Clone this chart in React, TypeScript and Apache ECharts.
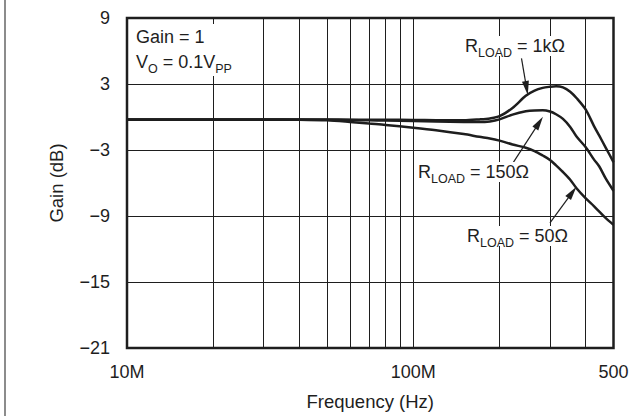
import React, { useEffect, useRef } from 'react';
import * as echarts from 'echarts';

const FONT = '"Liberation Sans", Arial, Helvetica, sans-serif';
const INK = '#1e1e1e';

// Frequency points in MHz
const FREQ_MHZ = [10, 20, 30, 40, 50, 60, 70, 80, 100, 120, 150, 170, 185, 200, 222, 247, 265, 283, 300, 315, 333, 353, 372, 400, 427, 446, 470, 500];
// Gain (dB) per load
const GAIN_1K = [-0.22, -0.22, -0.22, -0.22, -0.23, -0.24, -0.25, -0.25, -0.27, -0.29, -0.3, -0.22, -0.13, 0.07, 0.82, 1.93, 2.4, 2.65, 2.75, 2.8, 2.7, 2.3, 1.7, 0.67, -0.8, -1.7, -2.8, -4.1];
const GAIN_150 = [-0.25, -0.25, -0.25, -0.25, -0.26, -0.28, -0.3, -0.32, -0.36, -0.4, -0.45, -0.46, -0.4, -0.22, 0.22, 0.52, 0.6, 0.61, 0.5, 0.25, -0.17, -0.9, -1.8, -2.75, -3.85, -4.5, -5.6, -6.7];
const GAIN_50 = [-0.22, -0.22, -0.22, -0.24, -0.3, -0.45, -0.6, -0.72, -0.97, -1.2, -1.55, -1.8, -1.95, -2.15, -2.5, -2.8, -3.1, -3.5, -3.9, -4.4, -5.0, -5.7, -6.5, -7.4, -8.1, -8.6, -9.2, -9.8];

const MINOR_GRID_MHZ = [20, 30, 40, 50, 60, 70, 80, 90, 200, 300, 400];
const X_TICK_LABELS: Record<number, string> = { 10: '10M', 100: '100M', 500: '500' };
const Y_MIN = -21;
const Y_MAX = 9;
const Y_STEP = 6;

// Annotation arrows: [tail MHz, tail dB, head MHz, head dB]
const ARROWS = [
  [238.6, 5.33, 248.6, 2.63],
  [220, -4.4, 275, -0.51],
  [300, -9.62, 359, -6.85],
];

const FS = 18;
const mainStyle = { fontSize: FS, fontFamily: FONT, fill: INK, lineHeight: 20, verticalAlign: 'middle' };
const subStyle = { fontSize: 12.5, fontFamily: FONT, fill: INK, lineHeight: 12, padding: [13, 0, 0, 0], verticalAlign: 'middle' };

function label(x: number, y: number, text: string, bg = true) {
  return {
    type: 'text',
    x,
    y,
    z: 100,
    style: {
      text,
      rich: { m: mainStyle, s: subStyle },
      fill: INK,
      font: `${FS}px ${FONT}`,
      align: 'left',
      textAlign: 'left',
      verticalAlign: 'middle',
      textVerticalAlign: 'middle',
      backgroundColor: bg ? '#fff' : undefined,
      padding: bg ? [0, 2, 0, 2] : 0,
    },
  };
}

export default function App() {
  const ref = useRef<HTMLDivElement>(null);
  useEffect(() => {
    if (!ref.current) return;
    const chart = echarts.init(ref.current, undefined, { renderer: 'svg' });
    const toData = (g: number[]) => FREQ_MHZ.map((f, i) => [f * 1e6, g[i]]);
    const lineSeries = (name: string, g: number[]) => ({
      name,
      type: 'line',
      data: toData(g),
      showSymbol: false,
      symbol: 'none',
      smooth: 0.3,
      silent: true,
      lineStyle: { color: INK, width: 2.5 },
      itemStyle: { color: INK },
      emphasis: { disabled: true },
      z: 3,
    });
    const s1k: any = lineSeries('1k', GAIN_1K);
    s1k.markLine = {
      silent: true,
      symbol: ['none', 'none'],
      label: { show: false },
      lineStyle: { color: INK, width: 1, type: 'solid' },
      emphasis: { disabled: true },
      data: MINOR_GRID_MHZ.map((m) => ({ xAxis: m * 1e6 })),
      z: 1,
    };
    const s150: any = lineSeries('150', GAIN_150);
    s150.markLine = {
      silent: true,
      symbol: ['none', 'triangle'],
      symbolSize: 14,
      label: { show: false },
      lineStyle: { color: INK, width: 1.2, type: 'solid' },
      emphasis: { disabled: true },
      data: ARROWS.map((a) => [
        { coord: [a[0] * 1e6, a[1]], symbol: 'none' },
        { coord: [a[2] * 1e6, a[3]], symbol: 'triangle', symbolSize: [7, 14] },
      ]),
    };
    const s50: any = lineSeries('50', GAIN_50);

    chart.setOption({
      animation: false,
      textStyle: { fontFamily: FONT },
      grid: {
        left: 127,
        right: 18.5,
        top: 18,
        bottom: 67.5,
        show: true,
        borderColor: INK,
        borderWidth: 2.5,
        backgroundColor: 'transparent',
        z: 4,
      },
      xAxis: {
        type: 'log',
        logBase: 10,
        min: 1e7,
        max: 5e8,
        axisLine: { show: false },
        axisTick: { show: false },
        splitLine: { show: true, lineStyle: { color: INK, width: 1 } },
        axisLabel: {
          margin: 15,
          fontSize: FS,
          color: INK,
          fontFamily: FONT,
          showMinLabel: true,
          showMaxLabel: true,
          formatter: (v: number) => X_TICK_LABELS[Math.round(v / 1e6)] ?? '',
        },
        name: 'Frequency (Hz)',
        nameLocation: 'middle',
        nameGap: 44,
        nameTextStyle: { fontSize: 18.5, color: INK, fontFamily: FONT },
      },
      yAxis: {
        type: 'value',
        min: Y_MIN,
        max: Y_MAX,
        interval: Y_STEP,
        axisLine: { show: false },
        axisTick: { show: false },
        splitLine: { show: true, lineStyle: { color: INK, width: 1 } },
        axisLabel: {
          margin: 17,
          fontSize: FS,
          color: INK,
          fontFamily: FONT,
          formatter: (v: number) => (v < 0 ? '\u2212' + Math.abs(v) : String(v)),
        },
        name: 'Gain (dB)',
        nameLocation: 'middle',
        nameGap: 61,
        nameTextStyle: { fontSize: 18.5, color: INK, fontFamily: FONT },
      },
      series: [s1k, s150, s50],
      graphic: [
        { type: 'line', shape: { x1: 5, y1: 0, x2: 5, y2: 416 }, style: { stroke: '#666', lineWidth: 1.5 }, z: 100 },
        { type: 'rect', shape: { x: 131, y: 24, width: 110, height: 52 }, style: { fill: '#fff' }, z: 90 },
        label(136, 37, '{m|Gain = 1}', false),
        label(136, 62, '{m|V}{s|O}{m| = 0.1V}{s|PP}', false),
        label(463, 46, '{m|R}{s|LOAD}{m| = 1k\u03A9}'),
        label(416, 172, '{m|R}{s|LOAD}{m| = 150\u03A9}'),
        label(465, 236, '{m|R}{s|LOAD}{m| = 50\u03A9}'),
      ],
    });
    return () => chart.dispose();
  }, []);
  return <div ref={ref} style={{ position: 'absolute', left: 0, top: 0, width: 632, height: 416 }} />;
}
